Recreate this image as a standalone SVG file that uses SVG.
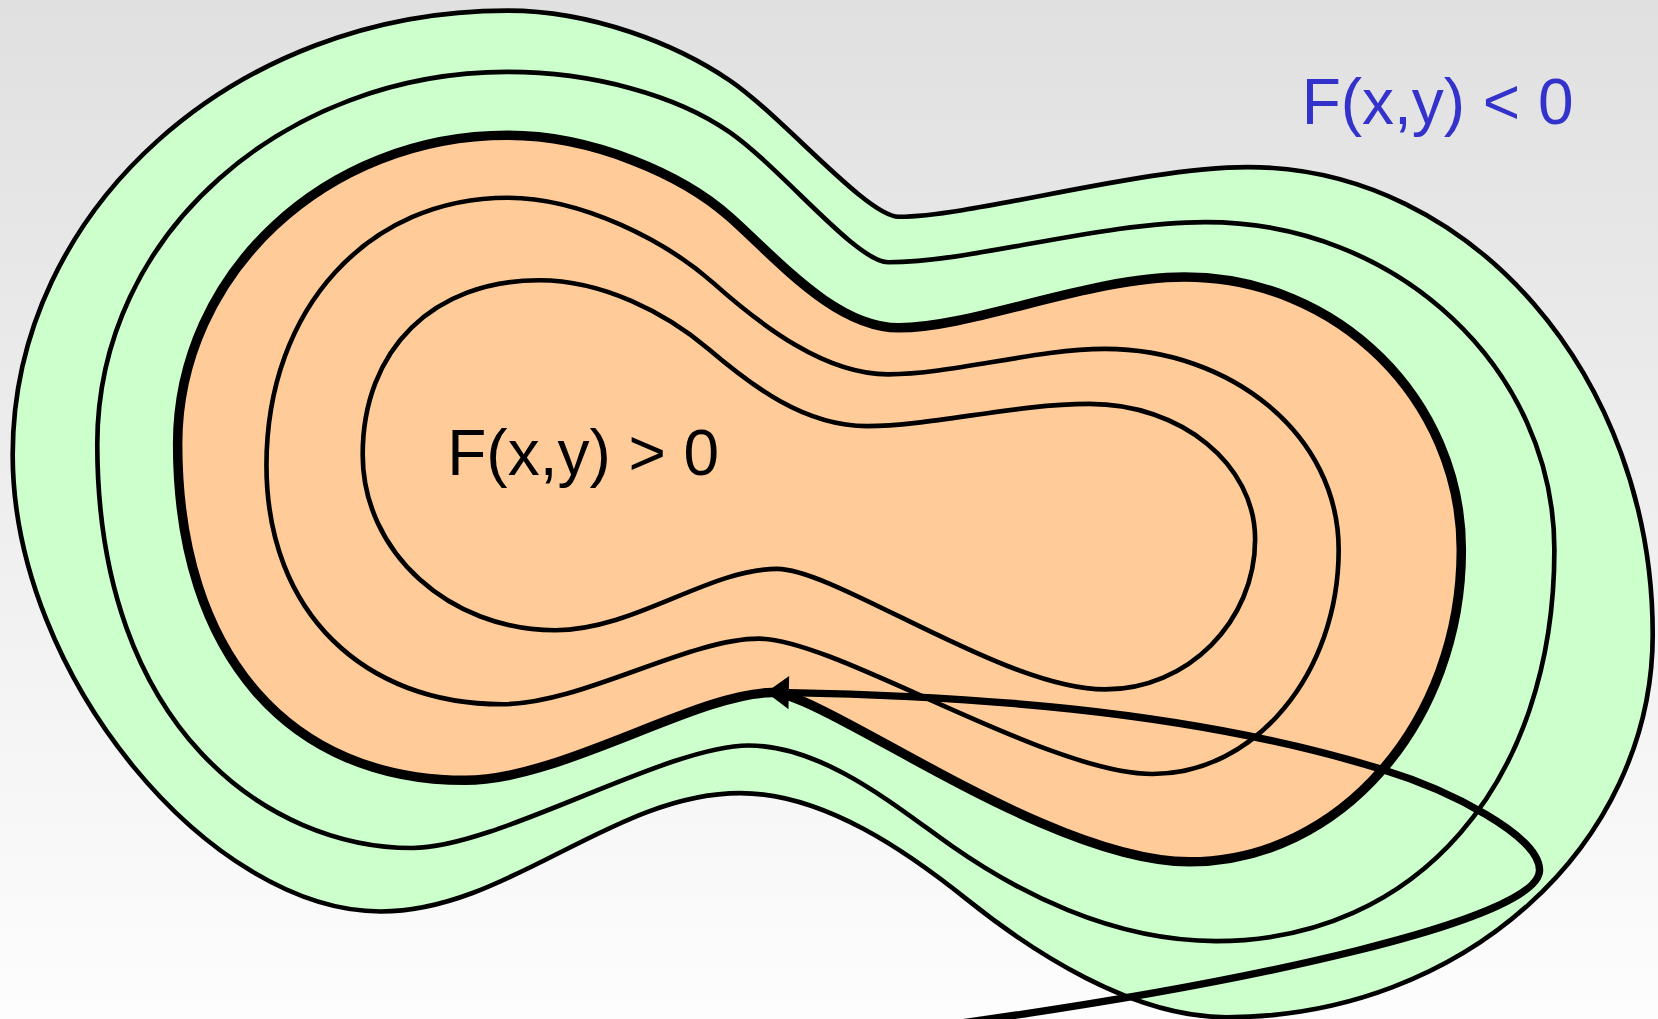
<svg xmlns="http://www.w3.org/2000/svg" width="1658" height="1019" viewBox="0 0 1658 1019">
<defs>
<linearGradient id="bg" x1="0" y1="0" x2="0" y2="1">
<stop offset="0" stop-color="#e0e0e0"/>
<stop offset="1" stop-color="#fdfdfd"/>
</linearGradient>
<marker id="arrow" markerUnits="userSpaceOnUse" markerWidth="40" markerHeight="40" viewBox="-2 -14 20 28" refX="0" refY="0" orient="auto" overflow="visible">
<path d="M0,-11 L15,0 L0,11 Z" fill="#000"/>
</marker>
<style>
.thin{stroke:#000;stroke-width:4.4;stroke-linejoin:round}
.thick{stroke:#000;stroke-width:9;stroke-linejoin:round}
.green{fill:#ccffcc}
.orange{fill:#ffcc99}
.none{fill:none}
.traj{fill:none;stroke:#000;stroke-width:7;marker-end:url(#arrow)}
.lbl{font-family:"Liberation Sans",Arial,sans-serif;font-size:60.5px}
</style>
</defs>
<rect x="0" y="0" width="1658" height="1019" fill="url(#bg)"/>
<g transform="scale(1.05740)">
<g id="contour-outer">
<path class="thin green" d="M480,10 C222,10 12,198 12,430 C12,640 200,862 360,862 C480,862 580,750 700,750 C780,750 860,807 915,851 C975,899 1070,962 1160,962 C1383,962 1563,800 1563,600 C1563,356 1391,158 1180,158 C1080,158 920,205 850,205 C820,205 740,110 690,76 C640,42 560,10 480,10 Z"/>
</g>
<g id="contour-second">
<path class="thin none" d="M480,68 C270,68 92,220 92,420 C92,690 255,802 390,802 C470,802 630,705 708,705 C780,705 850,765 900,800 C960,842 1050,890 1150,890 C1340,890 1470,740 1470,520 C1470,349 1322,210 1140,210 C1040,210 920,248 840,248 C810,248 740,160 690,125 C640,90 560,68 480,68 Z"/>
</g>
<g id="contour-zero">
<path class="thick orange" d="M480,128 C308,128 168,259 168,420 C168,620 275,738 440,738 C530,738 660,655 730,655 C780,655 990,815 1125,815 C1267,815 1382,683 1382,520 C1382,378 1265,262 1120,262 C1030,262 920,310 850,310 C790,310 735,245 690,205 C645,165 560,128 480,128 Z"/>
</g>
<g id="contour-inner1">
<path class="thin none" d="M480,187 C350,187 252,290 252,440 C252,580 345,666 475,666 C550,666 650,604 718,604 C790,604 990,732 1090,732 C1187,732 1266,637 1266,520 C1266,410 1163,330 1045,330 C980,330 900,354 840,354 C780,354 720,308 675,268 C630,228 550,187 480,187 Z"/>
</g>
<g id="contour-inner2">
<path class="thin none" d="M510,265 C410,265 343,330 343,430 C343,522 425,596 525,596 C600,596 670,538 735,538 C790,538 950,652 1045,652 C1123,652 1187,588 1187,510 C1187,439 1117,382 1030,382 C960,382 880,403 820,403 C760,403 710,364 670,330 C630,296 570,265 510,265 Z"/>
</g>
<g id="connectors">
<path class="traj" d="M905,968 C1180,930 1456,870 1456,823 C1456,790 1370,747 1308,728 C1118,669 900,658 746,655"/>
</g>
<g id="label-negative">
<text class="lbl" x="1231" y="117" fill="#3333cc">F(x,y) &lt; 0</text>
</g>
<g id="label-positive">
<text class="lbl" x="423" y="449" fill="#000">F(x,y) &gt; 0</text>
</g>
</g>
</svg>
